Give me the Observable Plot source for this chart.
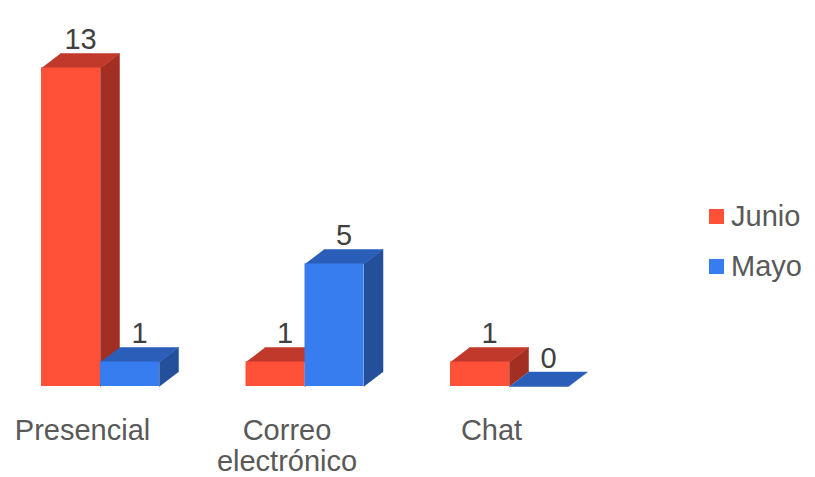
<!DOCTYPE html>
<html><head><meta charset="utf-8">
<script src="https://cdn.jsdelivr.net/npm/d3@7"></script>
<script src="https://cdn.jsdelivr.net/npm/@observablehq/plot@0.6"></script>
<style>
body{margin:0;background:#fff;font-family:"Liberation Sans",Arial,sans-serif}
#c{position:relative;width:815px;height:477px}
.lg{position:absolute;left:709px;display:flex;align-items:center;font-size:29px;color:#595959}
.lg span.sw{display:inline-block;width:15px;height:15px;margin-right:7px}
</style>
</head><body><div id="c"></div>
<script>
const categories = ["Presencial", "Correo electrónico", "Chat"];
const tickLabels = ["Presencial", "Correo\nelectrónico", "Chat"];
const series = ["Junio", "Mayo"];
const junio = [13, 1, 1];
const mayo = [1, 5, 0];
const palette = {
  Junio: {front: "#FF5038", top: "#C1392B", side: "#A32F23"},
  Mayo:  {front: "#377DF0", top: "#2A5EB9", side: "#244F9B"}
};

// scale geometry (units: one category step on x, one count on y)
const W = 815, H = 477;
const barW = 0.2885, depthX = 0.093, depthY = 0.59;
const values = {Junio: junio, Mayo: mayo};

const bars = [];
series.forEach((s, si) => {
  categories.forEach((c, i) => {
    const x1 = i - barW + si * barW, x2 = x1 + barW;
    bars.push({s, c, i, v: values[s][i], x1, x2});
  });
});

const polys = [];
bars.forEach((b, k) => {
  const {x1, x2, v, s} = b;
  [[x1, v], [x2, v], [x2 + depthX, v + depthY], [x1 + depthX, v + depthY]]
    .forEach(([x, y]) => polys.push({id: "t" + k, s, x, y, color: palette[s].top}));
  if (v > 0)
    [[x2, 0], [x2, v], [x2 + depthX, v + depthY], [x2 + depthX, depthY]]
      .forEach(([x, y]) => polys.push({id: "s" + k, s, x, y, color: palette[s].side}));
});

const marks = [];
series.forEach(s => {
  const bs = bars.filter(b => b.s === s);
  const ps = polys.filter(p => p.s === s);
  marks.push(
    Plot.line(ps.filter(p => p.id[0] === "s"), {x: "x", y: "y", z: "id", fill: "color", stroke: "color", strokeWidth: 0.5}),
    Plot.line(ps.filter(p => p.id[0] === "t"), {x: "x", y: "y", z: "id", fill: "color", stroke: "color", strokeWidth: 0.5}),
    Plot.rect(bs.filter(b => b.v > 0), {x1: "x1", x2: "x2", y1: 0, y2: "v", fill: palette[s].front})
  );
});

marks.push(
  Plot.text(bars, {
    x: b => (b.x1 + b.x2) / 2 + depthX / 2, y: "v", text: b => String(b.v),
    lineAnchor: "bottom", dy: -19, fontSize: 29, fill: "#404040"
  }),
  Plot.text(categories, {
    x: (d, i) => i - 0.088, y: 0, text: (d, i) => tickLabels[i],
    lineAnchor: "top", dy: 31, fontSize: 29, lineHeight: 1.08, fill: "#595959"
  })
);

const pxPerX = 204.5, x0px = 100, basePx = 386, pxPerY = 24.5;
const chart = Plot.plot({
  width: W, height: H,
  margin: 0,
  x: {type: "linear", domain: [-x0px / pxPerX, (W - x0px) / pxPerX], range: [0, W], axis: null},
  y: {type: "linear", domain: [-(H - basePx) / pxPerY, basePx / pxPerY], range: [H, 0], axis: null},
  color: {type: "identity"},
  style: {fontFamily: "'Liberation Sans', Arial, sans-serif", background: "#fff", overflow: "visible"},
  marks
});
const c = document.getElementById("c");
c.appendChild(chart);
series.forEach((s, i) => {
  const d = document.createElement("div");
  d.className = "lg";
  d.style.top = (200 + i * 50) + "px";
  d.innerHTML = `<span class="sw" style="background:${palette[s].front}"></span><span>${s}</span>`;
  c.appendChild(d);
});
</script>
</body></html>
